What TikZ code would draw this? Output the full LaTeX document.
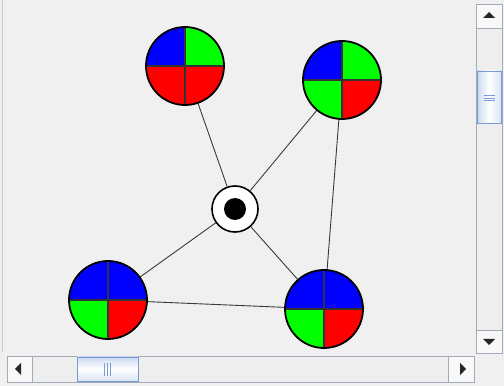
\documentclass[tikz,border=0pt]{standalone}
\usetikzlibrary{positioning}
\definecolor{panelbg}{HTML}{F0F0F0}
\definecolor{edgegray}{HTML}{3A3A3A}
\definecolor{sbedge}{HTML}{A2ABB8}
\definecolor{sbfill}{HTML}{EEEEEE}
\definecolor{thumbedge}{HTML}{7C9BD2}
\definecolor{thumbblue}{HTML}{C9D9F1}
\definecolor{paneledge}{HTML}{BCD0E6}
\begin{document}
\begin{tikzpicture}[x=1pt,y=1pt,
    quad/.style={circle,minimum size=78pt,inner sep=0pt,outer sep=0pt},
    hub/.style={circle,draw=black,line width=1.6pt,fill=white,minimum size=46pt,inner sep=0pt},
    link/.style={edgegray,line width=0.9pt},
    divider/.style={black!80,line width=1.4pt},
    rim/.style={black,line width=1.8pt},
    sbbox/.style={draw=sbedge,fill=sbfill,line width=0.8pt},
    sbthumb/.style={draw=thumbedge,line width=0.9pt}]

    % Window background and bounding box
    \fill[panelbg] (0,0) rectangle (504,386);
    \useasboundingbox (0,0) rectangle (504,386);
    \draw[paneledge,line width=1pt] (2.5,386) -- (2.5,34);

    % Radius of the coloured disks
    \pgfmathsetmacro{\rad}{39}

    % Place the nodes
    \node[hub] (hub) at (235,177) {};
    \node[quad] (nw) at (185,320) {};
    \node[quad] (ne) at (342,306) {};
    \node[quad] (sw) at (108,86) {};
    \node[quad] (se) at (324,77) {};
    \fill[black] (hub.center) circle (11);

    % Connect the nodes
    \foreach \a/\b in {hub/nw, hub/ne, hub/sw, hub/se, ne/se, sw/se} {
        \draw[link] (\a) -- (\b);
    }

    % Fill the four quarters of every disk
    \foreach \nd/\cnw/\cne/\csw/\cse in {nw/blue/green/red/red, ne/blue/green/green/red,
                                        sw/blue/blue/green/red, se/blue/blue/green/red} {
        \fill[\cne] (\nd.center) -- (\nd.east) arc[start angle=0,end angle=90,radius=\rad] -- cycle;
        \fill[\cnw] (\nd.center) -- (\nd.north) arc[start angle=90,end angle=180,radius=\rad] -- cycle;
        \fill[\csw] (\nd.center) -- (\nd.west) arc[start angle=180,end angle=270,radius=\rad] -- cycle;
        \fill[\cse] (\nd.center) -- (\nd.south) arc[start angle=270,end angle=360,radius=\rad] -- cycle;
        \draw[divider] (\nd.north) -- (\nd.south) (\nd.west) -- (\nd.east);
        \draw[rim] (\nd.center) circle (\rad);
    }

    % Vertical scroll bar
    \draw[sbbox] (476,33) rectangle (502,382);
    \draw[sbbox,fill=white!60!sbfill] (476,358) rectangle (502,382);
    \draw[sbbox,fill=white!60!sbfill] (476,33) rectangle (502,56);
    \shade[left color=thumbblue,right color=thumbblue!70,middle color=white,draw=thumbedge,line width=0.9pt]
        (477,263) rectangle (501,315);
    \foreach \yy in {285,287.5,290} {
        \draw[thumbedge,line width=1pt] (484,\yy) -- (495,\yy);
    }
    \fill[black!85] (489,374) -- (483,368) -- (495,368) -- cycle;
    \fill[black!85] (489,41) -- (483,47) -- (495,47) -- cycle;

    % Horizontal scroll bar
    \draw[sbbox] (7,4) rectangle (474,30);
    \draw[sbbox,fill=white!60!sbfill] (7,4) rectangle (32,30);
    \draw[sbbox,fill=white!60!sbfill] (448,4) rectangle (474,30);
    \shade[top color=thumbblue,bottom color=thumbblue!70,middle color=white,draw=thumbedge,line width=0.9pt]
        (77,5) rectangle (138,29);
    \foreach \xx in {104.5,107.5,110.5} {
        \draw[thumbedge,line width=1pt] (\xx,10) -- (\xx,23);
    }
    \fill[black!85] (15,17) -- (21,23) -- (21,11) -- cycle;
    \fill[black!85] (466,17) -- (460,23) -- (460,11) -- cycle;

\end{tikzpicture}
\end{document}
